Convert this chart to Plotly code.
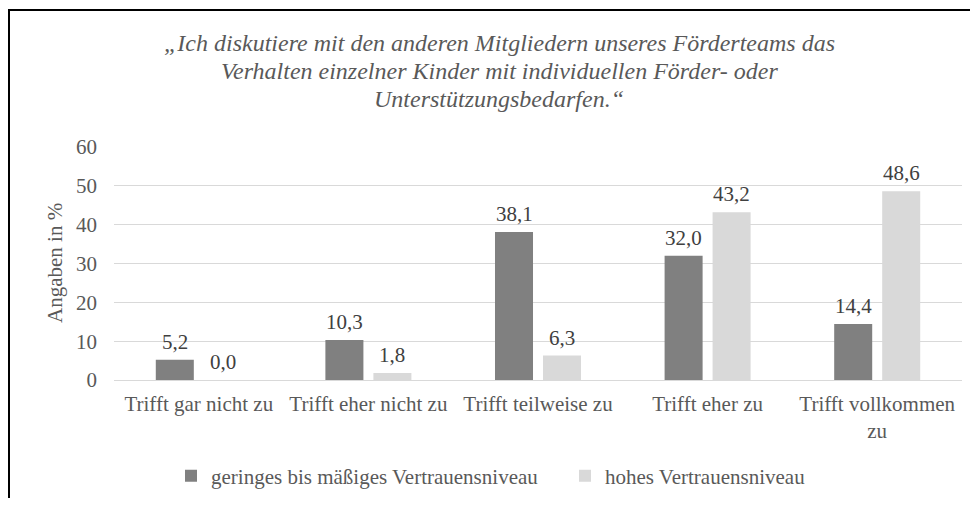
import plotly.graph_objects as go

categories = ["Trifft gar nicht zu", "Trifft eher nicht zu", "Trifft teilweise zu",
              "Trifft eher zu", "Trifft vollkommen<br>zu"]
series_names = ["geringes bis mäßiges Vertrauensniveau", "hohes Vertrauensniveau"]
low_values = [5.2, 10.3, 38.1, 32.0, 14.4]
high_values = [0.0, 1.8, 6.3, 43.2, 48.6]
y_ticks = [0, 10, 20, 30, 40, 50, 60]
title_lines = ["„Ich diskutiere mit den anderen Mitgliedern unseres Förderteams das",
               "Verhalten einzelner Kinder mit individuellen Förder- oder",
               "Unterstützungsbedarfen.“"]
y_title = "Angaben in %"

# The page body adds an 8px margin, so the figure is sized to fit inside it.
W, H = 962, 490
L, R, T, B = 106, 8, 139, 118
pw, ph = W - L - R, H - T - B
FONT = "Liberation Serif"


def fmt(v):
    return f"{v:.1f}".replace(".", ",")


def px_x(px):
    return (px - L) / pw


def px_y(py):
    return (T + ph - py) / ph


fig = go.Figure()
fig.add_trace(go.Bar(x=categories, y=low_values, name=series_names[0], legend="legend",
                     showlegend=True,
                     marker=dict(color="#808080", line=dict(width=0))))
fig.add_trace(go.Bar(x=categories, y=high_values, name=series_names[1], legend="legend2",
                     showlegend=True,
                     marker=dict(color="#d9d9d9", line=dict(width=0))))

annotations = []
for vals, shift in ((low_values, -24), (high_values, 24)):
    for c, v in zip(categories, vals):
        annotations.append(dict(x=c, y=v, xref="x", yref="y", text=fmt(v),
                                showarrow=False, xshift=shift, yshift=4,
                                yanchor="bottom",
                                font=dict(family=FONT, size=21, color="#404040")))

for i, line in enumerate(title_lines):
    annotations.append(dict(x=px_x(491), y=px_y(35 + 28 * i), xref="paper", yref="paper",
                            text="<i>" + line + "</i>", showarrow=False,
                            xanchor="center", yanchor="middle",
                            font=dict(family=FONT, size=24, color="#595959")))

annotations.append(dict(x=px_x(47), y=px_y(255), xref="paper", yref="paper",
                        text=y_title, textangle=-90, showarrow=False,
                        xanchor="center", yanchor="middle",
                        font=dict(family=FONT, size=21, color="#595959")))

fig.add_shape(type="rect", xref="paper", yref="paper",
              x0=px_x(1), x1=px_x(W + 30), y0=px_y(H + 30), y1=px_y(2),
              line=dict(color="black", width=2), fillcolor="rgba(0,0,0,0)", layer="above")

legend_style = dict(orientation="h", xanchor="left", yanchor="middle", y=px_y(468),
                    font=dict(family=FONT, size=21, color="#595959"),
                    bgcolor="rgba(0,0,0,0)")

fig.update_layout(
    width=W, height=H,
    showlegend=True,
    margin=dict(l=L, r=R, t=T, b=B, autoexpand=False),
    paper_bgcolor="white", plot_bgcolor="white",
    barmode="group", bargap=0.434, bargroupgap=0.208,
    font=dict(family=FONT, size=21, color="#595959"),
    xaxis=dict(showgrid=False, showline=False, ticks="", ticklabelstandoff=9,
               tickfont=dict(family=FONT, size=21, color="#595959")),
    yaxis=dict(range=[0, 60], tickvals=y_ticks, showgrid=True, gridcolor="#d9d9d9",
               gridwidth=1, zeroline=True, zerolinecolor="#d9d9d9", zerolinewidth=1,
               showline=False, ticks="", ticklabelstandoff=16,
               tickfont=dict(family=FONT, size=21, color="#595959")),
    legend=dict(x=px_x(163), **legend_style),
    legend2=dict(x=px_x(557), **legend_style),
    annotations=annotations,
)

fig.write_html("out.html")
